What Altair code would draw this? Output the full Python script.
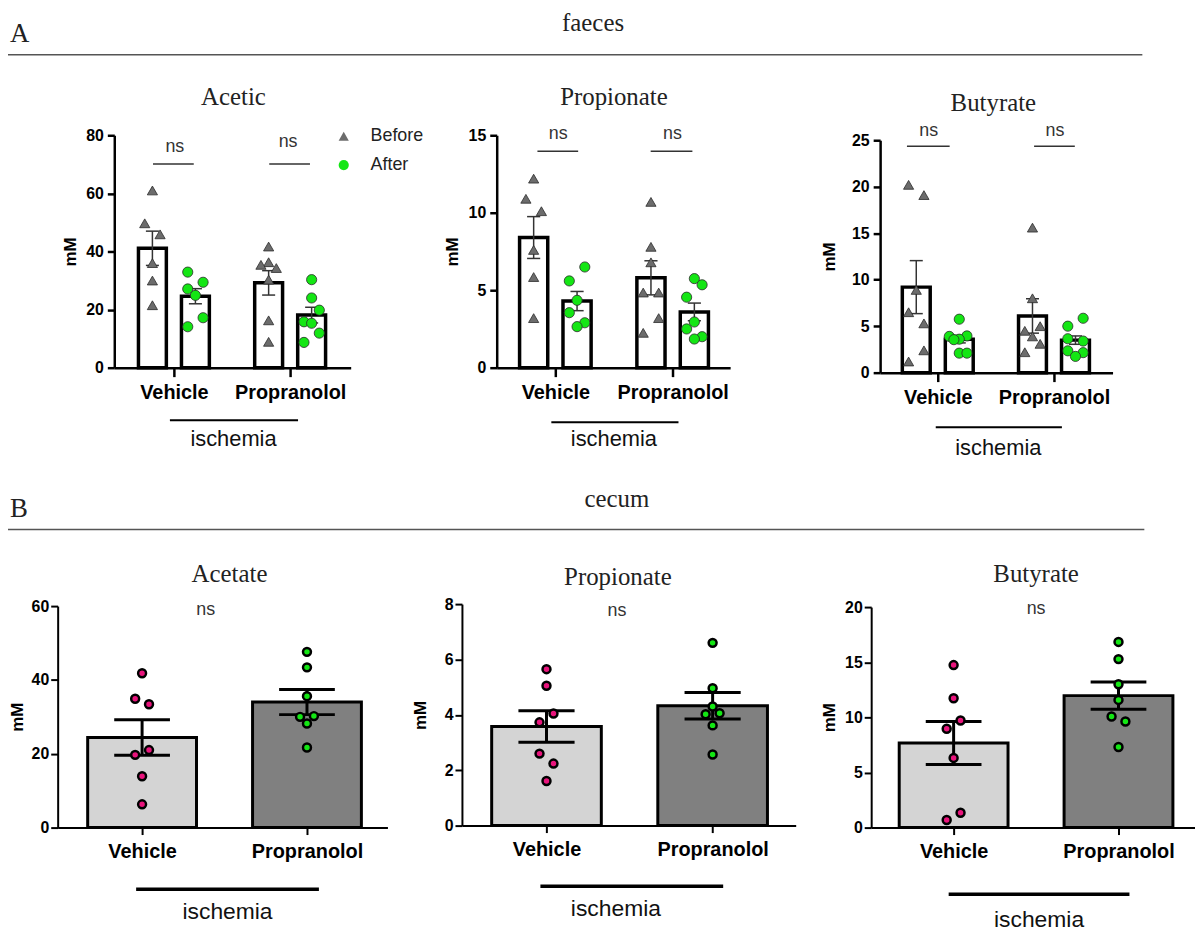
import altair as alt
import pandas as pd

# ------------------------------------------------------------------ data
GROUPS = ["Vehicle", "Propranolol"]
SERIES = ["Before", "After"]
SECTION_TITLES = ["faeces", "cecum"]
SECTION_LETTERS = ["A", "B"]
PANEL_TITLES_A = ["Acetic", "Propionate", "Butyrate"]
PANEL_TITLES_B = ["Acetate", "Propionate", "Butyrate"]
Y_TITLE = "mM"
SIG_LABEL = "ns"
GROUP_LABEL = "ischemia"

# A: faeces, Acetic
acetic_veh_before = [61.0, 49.7, 45.9, 36.0, 30.0, 21.5]
acetic_veh_before_lane = [0, -1, 1, 0, 0, 0]
acetic_veh_after = [32.9, 29.4, 27.1, 24.9, 17.2, 14.1]
acetic_veh_after_lane = [-1, 1, -1, 0, 1, -1]
acetic_pro_before = [41.7, 36.3, 35.4, 34.3, 30.3, 16.3, 8.9]
acetic_pro_before_lane = [0, 0, -1, 1, 0, 0, 0]
acetic_pro_after = [30.3, 24.0, 19.8, 15.8, 15.3, 11.9, 8.7]
acetic_pro_after_lane = [0, 0, 1, -1, 0, 1, -1]
acetic_mean = [41.1, 24.6, 29.2, 18.1]
acetic_sem = [5.9, 2.6, 4.2, 2.7]

# A: faeces, Propionate
fprop_veh_before = [12.2, 10.9, 10.1, 7.6, 5.85, 3.2]
fprop_veh_before_lane = [0, -1, 1, 0, 0, 0]
fprop_veh_after = [6.5, 5.6, 4.35, 3.55, 2.9, 2.65]
fprop_veh_after_lane = [1, -1, 0, -1, 1, 0]
fprop_pro_before = [10.7, 7.8, 6.8, 4.85, 4.85, 3.2, 2.25]
fprop_pro_before_lane = [0, 0, 0, -1, 1, 1, -1]
fprop_pro_after = [5.75, 5.35, 4.55, 2.95, 2.5, 2.0, 1.85]
fprop_pro_after_lane = [0, 1, -1, 0, -1, 1, 0]
fprop_mean = [8.4, 4.3, 5.8, 3.6]
fprop_sem = [1.35, 0.62, 1.1, 0.57]

# A: faeces, Butyrate
fbut_veh_before = [20.2, 19.1, 8.9, 6.5, 5.3, 2.4, 1.2]
fbut_veh_before_lane = [-1, 1, 0, -1, 1, 1, -1]
fbut_veh_after = [5.75, 3.95, 3.9, 3.6, 3.55, 2.1, 2.1]
fbut_veh_after_lane = [0, 1, -1.3, 0, -0.7, 0, 1]
fbut_pro_before = [15.6, 8.0, 5.0, 4.5, 3.9, 3.1, 2.2]
fbut_pro_before_lane = [0, 0, 1, -1, 0, 1, -1]
fbut_pro_after = [5.85, 5.0, 3.65, 3.4, 2.35, 2.15, 1.75]
fbut_pro_after_lane = [1, -1, -1, 1, -1, 1, 0]
fbut_mean = [9.2, 3.6, 6.1, 3.5]
fbut_sem = [2.85, 0.4, 1.85, 0.45]

# B: cecum, Acetate
cacet_veh = [41.8, 34.9, 33.4, 21.0, 19.7, 13.9, 6.3]
cacet_veh_lane = [0, -1, 1, 1, -1, 0, 0]
cacet_pro = [47.6, 43.4, 35.6, 30.2, 30.0, 28.2, 21.7]
cacet_pro_lane = [0, 0, 0, 1, -1, 0, 0]
cacet_mean = [24.4, 34.0]
cacet_sem = [4.8, 3.4]

# B: cecum, Propionate
cprop_veh = [5.65, 5.05, 4.05, 3.73, 2.6, 2.24, 1.61]
cprop_veh_lane = [0, 0, 1, -1, -1, 1, 0]
cprop_pro = [6.6, 4.96, 4.3, 4.06, 4.02, 3.62, 2.57]
cprop_pro_lane = [0, 0, 0, 1, -1, 0, 0]
cprop_mean = [3.58, 4.33]
cprop_sem = [0.57, 0.48]

# B: cecum, Butyrate
cbut_veh = [14.74, 11.73, 9.71, 8.96, 6.32, 1.35, 0.69]
cbut_veh_lane = [0, 0, 1, -1, 0, 1, -1]
cbut_pro = [16.84, 15.28, 13.0, 11.58, 10.08, 9.62, 7.31]
cbut_pro_lane = [0, 0, 0, 0, -1, 1, 0]
cbut_mean = [7.67, 11.97]
cbut_sem = [1.95, 1.23]

# ------------------------------------------------------------------ style
W, H = 1195, 926            # whole canvas (page minus 8px margin at top/left)
SANS = "Liberation Sans"
SERIF = "Liberation Serif"
GRAY_TRI = "#6c6c6c"
GREEN = "#14e614"
PINK = "#e8147c"
BAR_LIGHT = "#d4d4d4"
BAR_DARK = "#808080"

A_OFF, A_HW, A_CAP, A_JIT = 0.185, 0.12, 0.056, 0.066
B_HW, B_CAP, B_JIT = 0.33, 0.169, 0.042

shape_scale = alt.Scale(domain=SERIES, range=["triangle-up", "circle"])
fill_scale = alt.Scale(domain=SERIES, range=[GRAY_TRI, GREEN])
LEGEND = alt.Legend(orient="none", legendX=329, legendY=117, title=None,
                    labelFont=SANS, labelFontSize=18, labelColor="#222",
                    symbolSize=105, symbolStrokeColor="#333", symbolStrokeWidth=0.8,
                    rowPadding=11, labelOffset=18, padding=0)


def x_axis(yzero_px, tick=9, width=2.5, lpad=6):
    return alt.Axis(orient="bottom", offset=yzero_px - H, values=[0, 1],
                    labelExpr=f"datum.value == 0 ? '{GROUPS[0]}' : '{GROUPS[1]}'",
                    title=None, grid=False, domainColor="black", domainWidth=width,
                    tickColor="black", tickWidth=width, tickSize=tick,
                    labelFont=SANS, labelFontSize=20, labelFontWeight="bold",
                    labelColor="black", labelPadding=lpad, labelFlush=False,
                    labelOverlap=False)


def y_axis(xaxis_px, ticks, tpad, lpad=4, width=2.5):
    return alt.Axis(orient="left", offset=-xaxis_px, values=ticks, title=Y_TITLE,
                    titleFont=SANS, titleFontSize=17, titleFontWeight="bold",
                    titleColor="black", titlePadding=tpad, grid=False,
                    domainColor="black", domainWidth=width, tickColor="black",
                    tickWidth=width, tickSize=7, labelFont=SANS, labelFontSize=16,
                    labelFontWeight="bold", labelColor="black", labelPadding=lpad,
                    labelFlush=False, labelOverlap=False)


def panel_a(series_data, means, sems, ymax, yticks, xdom, xrng, yrng, tpad):
    rows = []
    for g, s, vals, lanes in series_data:
        for v, l in zip(vals, lanes):
            rows.append({"group": g, "series": s, "value": v, "lane": l})
    pts = pd.DataFrame(rows)
    bars = pd.DataFrame({"group": [GROUPS[0], GROUPS[0], GROUPS[1], GROUPS[1]],
                         "series": [SERIES[0], SERIES[1], SERIES[0], SERIES[1]],
                         "mean": means, "sem": sems})
    xs = alt.Scale(domain=xdom, range=xrng, nice=False, zero=False)
    ys = alt.Scale(domain=[0, ymax], range=yrng, nice=False, zero=False)
    xc = (f"(datum.group === '{GROUPS[0]}' ? 0 : 1) + "
          f"(datum.series === '{SERIES[0]}' ? -{A_OFF} : {A_OFF})")
    b = alt.Chart(bars).transform_calculate(
        xc=xc, xl=f"datum.xc - {A_HW}", xr=f"datum.xc + {A_HW}",
        cl=f"datum.xc - {A_CAP}", cr=f"datum.xc + {A_CAP}",
        lo="datum.mean - datum.sem", hi="datum.mean + datum.sem", base="0")
    rect = b.mark_rect(fill="white", stroke="black", strokeWidth=3.5).encode(
        x=alt.X("xl:Q", scale=xs, axis=x_axis(yrng[0])), x2="xr:Q",
        y=alt.Y("mean:Q", scale=ys, axis=y_axis(xrng[0], yticks, tpad)), y2="base:Q")
    err = b.mark_rule(color="#333", strokeWidth=1.5).encode(
        x=alt.X("xc:Q", scale=xs, axis=None),
        y=alt.Y("lo:Q", scale=ys, axis=None), y2="hi:Q")
    cap_hi = b.mark_rule(color="#333", strokeWidth=1.5).encode(
        x=alt.X("cl:Q", scale=xs, axis=None), x2="cr:Q",
        y=alt.Y("hi:Q", scale=ys, axis=None))
    cap_lo = b.mark_rule(color="#333", strokeWidth=1.5).encode(
        x=alt.X("cl:Q", scale=xs, axis=None), x2="cr:Q",
        y=alt.Y("lo:Q", scale=ys, axis=None))
    points = alt.Chart(pts).transform_calculate(
        xc=xc, xp=f"datum.xc + datum.lane * {A_JIT}"
    ).mark_point(filled=True, size=105, opacity=1, stroke="#2a2a2a", strokeWidth=0.8).encode(
        x=alt.X("xp:Q", scale=xs, axis=None),
        y=alt.Y("value:Q", scale=ys, axis=None),
        shape=alt.Shape("series:N", scale=shape_scale, legend=LEGEND),
        fill=alt.Fill("series:N", scale=fill_scale, legend=LEGEND))
    return [rect, err, cap_hi, cap_lo, points]


def panel_b(veh, veh_lane, pro, pro_lane, means, sems, ymax, yticks, xdom, xrng, yrng, tpad):
    rows = []
    for g, vals, lanes in [(GROUPS[0], veh, veh_lane), (GROUPS[1], pro, pro_lane)]:
        for v, l in zip(vals, lanes):
            rows.append({"group": g, "value": v, "lane": l})
    pts = pd.DataFrame(rows)
    bars = pd.DataFrame({"group": GROUPS, "mean": means, "sem": sems})
    xs = alt.Scale(domain=xdom, range=xrng, nice=False, zero=False)
    ys = alt.Scale(domain=[0, ymax], range=yrng, nice=False, zero=False)
    xc = f"datum.group === '{GROUPS[0]}' ? 0 : 1"
    is_veh = f"datum.group === '{GROUPS[0]}'"
    b = alt.Chart(bars).transform_calculate(
        xc=xc, xl=f"datum.xc - {B_HW}", xr=f"datum.xc + {B_HW}",
        cl=f"datum.xc - {B_CAP}", cr=f"datum.xc + {B_CAP}",
        lo="datum.mean - datum.sem", hi="datum.mean + datum.sem", base="0")
    rect = b.mark_rect(stroke="black", strokeWidth=3).encode(
        x=alt.X("xl:Q", scale=xs, axis=x_axis(yrng[0], tick=7, width=2, lpad=7)), x2="xr:Q",
        y=alt.Y("mean:Q", scale=ys, axis=y_axis(xrng[0], yticks, tpad, lpad=2, width=2)),
        y2="base:Q",
        fill=alt.condition(is_veh, alt.value(BAR_LIGHT), alt.value(BAR_DARK)))
    err = b.mark_rule(color="black", strokeWidth=3).encode(
        x=alt.X("xc:Q", scale=xs, axis=None),
        y=alt.Y("lo:Q", scale=ys, axis=None), y2="hi:Q")
    cap_hi = b.mark_rule(color="black", strokeWidth=3).encode(
        x=alt.X("cl:Q", scale=xs, axis=None), x2="cr:Q",
        y=alt.Y("hi:Q", scale=ys, axis=None))
    cap_lo = b.mark_rule(color="black", strokeWidth=3).encode(
        x=alt.X("cl:Q", scale=xs, axis=None), x2="cr:Q",
        y=alt.Y("lo:Q", scale=ys, axis=None))
    points = alt.Chart(pts).transform_calculate(
        xc=xc, xp=f"datum.xc + datum.lane * {B_JIT}"
    ).mark_point(filled=True, size=64, opacity=1, stroke="black", strokeWidth=2.5).encode(
        x=alt.X("xp:Q", scale=xs, axis=None),
        y=alt.Y("value:Q", scale=ys, axis=None),
        fill=alt.condition(is_veh, alt.value(PINK), alt.value(GREEN)))
    return [rect, err, cap_hi, cap_lo, points]


pA1 = panel_a([(GROUPS[0], SERIES[0], acetic_veh_before, acetic_veh_before_lane),
               (GROUPS[0], SERIES[1], acetic_veh_after, acetic_veh_after_lane),
               (GROUPS[1], SERIES[0], acetic_pro_before, acetic_pro_before_lane),
               (GROUPS[1], SERIES[1], acetic_pro_after, acetic_pro_after_lane)],
              acetic_mean, acetic_sem, 80, [0, 20, 40, 60, 80],
              [-0.513, 1.521], [107, 345], [359, 125], 6)
pA2 = panel_a([(GROUPS[0], SERIES[0], fprop_veh_before, fprop_veh_before_lane),
               (GROUPS[0], SERIES[1], fprop_veh_after, fprop_veh_after_lane),
               (GROUPS[1], SERIES[0], fprop_pro_before, fprop_pro_before_lane),
               (GROUPS[1], SERIES[1], fprop_pro_after, fprop_pro_after_lane)],
              fprop_mean, fprop_sem, 15, [0, 5, 10, 15],
              [-0.5, 1.49], [492, 727], [359, 125], 7)
pA3 = panel_a([(GROUPS[0], SERIES[0], fbut_veh_before, fbut_veh_before_lane),
               (GROUPS[0], SERIES[1], fbut_veh_after, fbut_veh_after_lane),
               (GROUPS[1], SERIES[0], fbut_pro_before, fbut_pro_before_lane),
               (GROUPS[1], SERIES[1], fbut_pro_after, fbut_pro_after_lane)],
              fbut_mean, fbut_sem, 25, [0, 5, 10, 15, 20, 25],
              [-0.496, 1.504], [878, 1112], [364, 130], 13)
pB1 = panel_b(cacet_veh, cacet_veh_lane, cacet_pro, cacet_pro_lane, cacet_mean, cacet_sem,
              60, [0, 20, 40, 60], [-0.512, 1.488], [50, 382], [822, 599], 5)
pB2 = panel_b(cprop_veh, cprop_veh_lane, cprop_pro, cprop_pro_lane, cprop_mean, cprop_sem,
              8, [0, 2, 4, 6, 8], [-0.509, 1.5], [457, 793], [820, 597], 15)
pB3 = panel_b(cbut_veh, cbut_veh_lane, cbut_pro, cbut_pro_lane, cbut_mean, cbut_sem,
              20, [0, 5, 10, 15, 20], [-0.5, 1.464], [869, 1195], [822, 600], 6)

# ------------------------------------------------------------------ annotations (pixel layout)
rules_df = pd.DataFrame([
    dict(x=0, x2=1142, y=44, w=1.5, c="#555"),
    dict(x=0, x2=1144, y=522, w=1.5, c="#555"),
    dict(x=146, x2=187, y=154, w=1.5, c="#333"),
    dict(x=263, x2=304, y=154, w=1.5, c="#333"),
    dict(x=533, x2=574, y=141, w=1.5, c="#333"),
    dict(x=647, x2=689, y=141, w=1.5, c="#333"),
    dict(x=905, x2=948, y=136, w=1.5, c="#333"),
    dict(x=1033, x2=1074, y=136, w=1.5, c="#333"),
    dict(x=163, x2=292, y=412, w=2, c="black"),
    dict(x=547, x2=675, y=414, w=2, c="black"),
    dict(x=934, x2=1061, y=419, w=2, c="black"),
    dict(x=129, x2=313, y=884, w=3.5, c="black"),
    dict(x=536, x2=720, y=881, w=3.5, c="black"),
    dict(x=947, x2=1129, y=889, w=3.5, c="black"),
])
rules = alt.Chart(rules_df).mark_rule().encode(
    x=alt.X("x:Q", scale=None, axis=None), x2="x2:Q",
    y=alt.Y("y:Q", scale=None, axis=None),
    strokeWidth=alt.StrokeWidth("w:Q", scale=None, legend=None),
    color=alt.Color("c:N", scale=None, legend=None))

serif_c_df = pd.DataFrame([
    dict(t=SECTION_TITLES[0], x=589, y=12),
    dict(t=SECTION_TITLES[1], x=613, y=491),
    dict(t=PANEL_TITLES_A[0], x=227, y=87),
    dict(t=PANEL_TITLES_A[1], x=610, y=87),
    dict(t=PANEL_TITLES_A[2], x=992, y=93),
    dict(t=PANEL_TITLES_B[0], x=223, y=567),
    dict(t=PANEL_TITLES_B[1], x=614, y=570),
    dict(t=PANEL_TITLES_B[2], x=1035, y=567),
])
serif_c = alt.Chart(serif_c_df).mark_text(font=SERIF, fontSize=25, color="#222",
                                          align="center", baseline="middle").encode(
    x=alt.X("x:Q", scale=None, axis=None), y=alt.Y("y:Q", scale=None, axis=None), text="t:N")

serif_l_df = pd.DataFrame([
    dict(t=SECTION_LETTERS[0], x=2, y=23),
    dict(t=SECTION_LETTERS[1], x=2, y=501),
])
serif_l = alt.Chart(serif_l_df).mark_text(font=SERIF, fontSize=27, color="#222",
                                          align="left", baseline="middle").encode(
    x=alt.X("x:Q", scale=None, axis=None), y=alt.Y("y:Q", scale=None, axis=None), text="t:N")

ns_df = pd.DataFrame([
    dict(x=168, y=137), dict(x=282, y=132),
    dict(x=554, y=124), dict(x=669, y=124),
    dict(x=927, y=121), dict(x=1054, y=121),
    dict(x=199, y=603), dict(x=613, y=604), dict(x=1035, y=602),
])
ns_df["t"] = SIG_LABEL
ns_txt = alt.Chart(ns_df).mark_text(font=SANS, fontSize=18, color="#333",
                                    align="center", baseline="middle").encode(
    x=alt.X("x:Q", scale=None, axis=None), y=alt.Y("y:Q", scale=None, axis=None), text="t:N")

isch_df = pd.DataFrame([
    dict(x=227, y=431, fs=22), dict(x=610, y=431, fs=22), dict(x=997, y=440, fs=22),
    dict(x=221, y=907, fs=23), dict(x=612, y=904, fs=23), dict(x=1038, y=915, fs=23),
])
isch_df["t"] = GROUP_LABEL
isch_txt = alt.Chart(isch_df).mark_text(font=SANS, color="#111",
                                        align="center", baseline="middle").encode(
    x=alt.X("x:Q", scale=None, axis=None), y=alt.Y("y:Q", scale=None, axis=None),
    size=alt.Size("fs:Q", scale=None, legend=None), text="t:N")

chart = alt.layer(
    *pA1, *pA2, *pA3, *pB1, *pB2, *pB3, rules, serif_c, serif_l, ns_txt, isch_txt
).resolve_scale(x="independent", y="independent").resolve_axis(
    x="independent", y="independent"
).properties(
    width=W, height=H, autosize=alt.AutoSizeParams(type="none"), padding=0,
    background="white"
).configure_view(stroke=None)

chart.save("out.html", embed_options={"renderer": "svg", "actions": False})
